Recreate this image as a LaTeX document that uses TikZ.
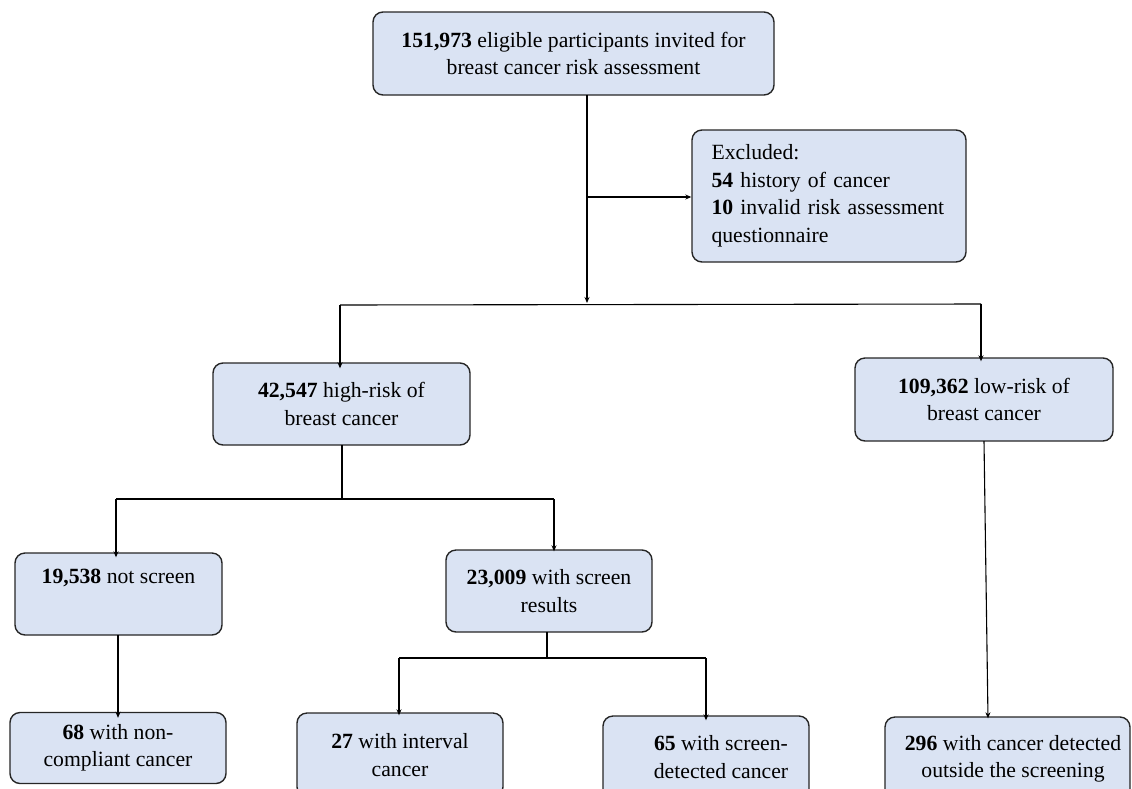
\documentclass[tikz,border=0pt]{standalone}
\usepackage{fontspec}
\setmainfont{Liberation Serif}
\usetikzlibrary{arrows.meta}
\definecolor{boxfill}{HTML}{DAE3F3}
\definecolor{boxline}{HTML}{262626}
\begin{document}
\begin{tikzpicture}[x=1pt,y=-1pt,
  box/.style={draw=boxline, line width=1.4pt, fill=boxfill, rounded corners=10pt,
    align=center, inner sep=0pt, font=\fontsize{21.7}{27.5}\selectfont},
  lbl/.style={align=center, inner sep=0pt, font=\fontsize{21.7}{27.5}\selectfont},
  conn/.style={draw=black, line width=1.1pt},
  arr/.style={conn, -{Stealth[length=6pt,width=5pt]}}]
\useasboundingbox (0,0) rectangle (1132,788);
\clip (0,0) rectangle (1132,788);

% boxes
\node[box, minimum width=401pt, minimum height=83pt] (top) at (573.5,53.5)
  {\textbf{151,973} eligible participants invited for\\breast cancer risk assessment};
\node[box, minimum width=274pt, minimum height=132pt, text width=235pt, align=left] (excl) at (829,196)
  {Excluded:\\\textbf{54} history of cancer\\\makebox[235pt][s]{\textbf{10} invalid risk assessment}\\questionnaire};
\node[box, minimum width=257pt, minimum height=82pt] (high) at (341.5,404)
  {\textbf{42,547} high-risk of\\breast cancer};
\node[box, minimum width=258pt, minimum height=83pt] (low) at (984,399.5)
  {\textbf{109,362} low-risk of\\breast cancer};
\node[box, minimum width=207pt, minimum height=82pt] (nots) at (118.5,594)
  {\textbf{19,538} not screen\\\strut};
\node[box, minimum width=206pt, minimum height=82pt] (scr) at (549,591)
  {\textbf{23,009} with screen\\results};
\node[box, minimum width=216pt, minimum height=71pt] (nonc) at (118,748)
  {\textbf{68} with non-\\compliant cancer};
\node[box, minimum width=206pt, minimum height=84pt] (intv) at (400,755)
  {\textbf{27} with interval\\cancer};
\node[box, minimum width=206pt, minimum height=84pt] (sdet) at (706,758) {};
\node[lbl] (sdett) at (721,757) {\textbf{65} with screen-\\detected cancer};
\node[box, minimum width=245pt, minimum height=84pt] (outs) at (1007.5,759) {};
\node[lbl] (outst) at (1013,759) {\textbf{296} with cancer detected\\outside the screening};

% junction coordinates
\coordinate (t1) at (587,95);
\coordinate (t2) at (587,303);
\coordinate (tx) at (587,197);
\coordinate (hl) at (340,305);
\coordinate (hr) at (981,304);
\coordinate (h1) at (342,445);
\coordinate (h2) at (342,499);
\coordinate (hl2) at (116,499);
\coordinate (hr2) at (554,499);
\coordinate (n1) at (118,635);
\coordinate (s1) at (547,632);
\coordinate (s2) at (547,658);
\coordinate (sl) at (399,658);
\coordinate (sr) at (706,658);
\coordinate (l1) at (984,441);

% connectors
\draw[arr] (t1) -- (t2);
\draw[arr] (tx) -- (tx -| excl.west);
\draw[conn] (hl) -- (hr);
\draw[arr] (hl) -- ([yshift=-6pt]hl |- high.north);
\draw[arr] (hr) -- ([yshift=-4pt]hr |- low.north);
\draw[conn] (h1) -- (h2);
\draw[conn] (hl2) -- (hr2);
\draw[arr] (hl2) -- ([yshift=-5pt]hl2 |- nots.north);
\draw[arr] (hr2) -- ([yshift=-2pt]hr2 |- scr.north);
\draw[arr] (n1) -- ([yshift=-6pt]n1 |- nonc.north);
\draw[conn] (s1) -- (s2);
\draw[conn] (sl) -- (sr);
\draw[arr] (sl) -- ([yshift=-3pt]sl |- intv.north);
\draw[arr] (sr) -- ([yshift=-5pt]sr |- sdet.north);
\draw[arr] (l1) -- ([xshift=4pt,yshift=-2pt]l1 |- outs.north);
\end{tikzpicture}
\end{document}
